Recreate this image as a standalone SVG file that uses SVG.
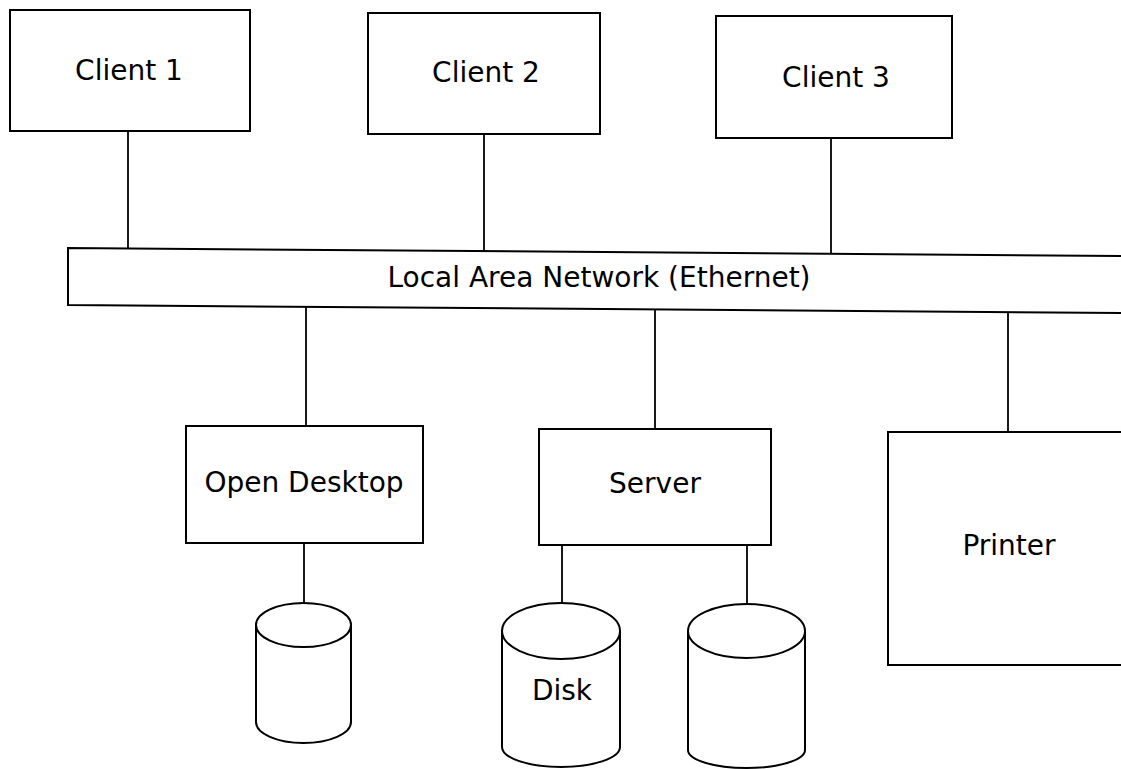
<svg xmlns="http://www.w3.org/2000/svg" width="1121" height="769" viewBox="0 0 1121 769">
<style>
.box{fill:#fff;stroke:#000;stroke-width:2}
.ln{fill:none;stroke:#000;stroke-width:1.8}
.lbl{font-family:"DejaVu Sans","Liberation Sans",sans-serif;font-size:28px;fill:#000;text-anchor:middle}
</style>
<rect width="1121" height="769" fill="#fff"/>
<g id="connectors">
<line class="ln" x1="128" y1="131" x2="128" y2="248"/>
<line class="ln" x1="484" y1="134" x2="484" y2="251"/>
<line class="ln" x1="831" y1="138" x2="831" y2="255"/>
<line class="ln" x1="306" y1="305" x2="306" y2="426"/>
<line class="ln" x1="655" y1="309" x2="655" y2="429"/>
<line class="ln" x1="1008" y1="312" x2="1008" y2="432"/>
<line class="ln" x1="304" y1="543" x2="304" y2="602"/>
<line class="ln" x1="562" y1="545" x2="562" y2="603"/>
<line class="ln" x1="747" y1="545" x2="747" y2="604"/>
</g>
<g id="client1">
<rect class="box" x="10" y="10" width="240" height="121"/>
<text class="lbl" x="129" y="80">Client 1</text>
</g>
<g id="client2">
<rect class="box" x="368" y="13" width="232" height="121"/>
<text class="lbl" x="486" y="82">Client 2</text>
</g>
<g id="client3">
<rect class="box" x="716" y="16" width="236" height="122"/>
<text class="lbl" x="836" y="87">Client 3</text>
</g>
<g id="lan">
<path class="box" d="M1121,256 L68,248 L68,305 L1121,313"/>
<text class="lbl" x="599" y="287">Local Area Network (Ethernet)</text>
</g>
<g id="open-desktop">
<rect class="box" x="186" y="426" width="237" height="117"/>
<text class="lbl" x="304" y="492">Open Desktop</text>
</g>
<g id="disk1">
<path class="box" d="M256,625 L256,722 A47.5,21 0 0 0 351,722 L351,625"/>
<ellipse class="box" cx="303.5" cy="625" rx="47.5" ry="22"/>
</g>
<g id="server">
<rect class="box" x="539" y="429" width="232" height="116"/>
<text class="lbl" x="655" y="493">Server</text>
</g>
<g id="disk2">
<path class="box" d="M502,631 L502,747 A59,20 0 0 0 620,747 L620,631"/>
<ellipse class="box" cx="561" cy="631" rx="59" ry="28"/>
<text class="lbl" x="562" y="700">Disk</text>
</g>
<g id="disk3">
<path class="box" d="M688,631 L688,750 A58.5,18 0 0 0 805,750 L805,631"/>
<ellipse class="box" cx="746.5" cy="631" rx="58.5" ry="27"/>
</g>
<g id="printer">
<path class="box" d="M1121,432 L888,432 L888,665 L1121,665"/>
<text class="lbl" x="1009" y="555">Printer</text>
</g>
</svg>
